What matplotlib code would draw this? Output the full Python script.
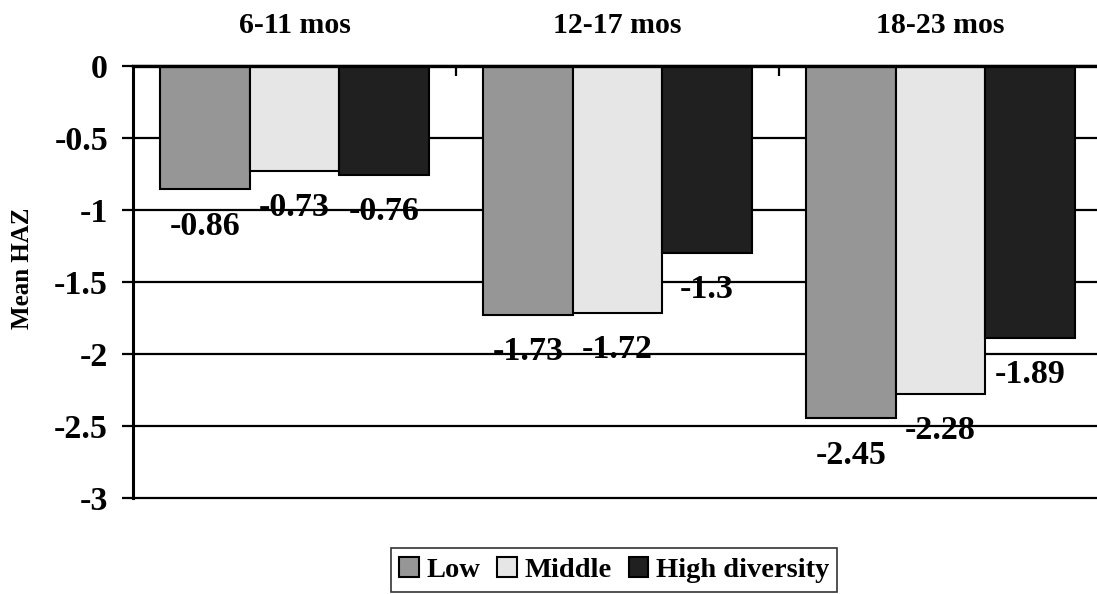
import matplotlib
matplotlib.use("Agg")
import matplotlib.pyplot as plt
import numpy as np

# Mean height-for-age Z score by child age group and dietary diversity tercile
age_groups = ["6-11 mos", "12-17 mos", "18-23 mos"]
series_names = ["Low", "Middle", "High diversity"]
low_vals = [-0.86, -1.73, -2.45]
middle_vals = [-0.73, -1.72, -2.28]
high_vals = [-0.76, -1.30, -1.89]
y_ticks = [0, -0.5, -1, -1.5, -2, -2.5, -3]
y_tick_labels = ["0", "-0.5", "-1", "-1.5", "-2", "-2.5", "-3"]

colors = ["#969696", "#e6e6e6", "#202020"]
serif = ["Liberation Serif", "DejaVu Serif"]
plt.rcParams["font.family"] = serif
plt.rcParams["font.weight"] = "bold"

W, H = 1097, 594
fig = plt.figure(figsize=(W / 100, H / 100), dpi=100)
ax_left, ax_right = 133, 1102
ax_top, ax_bottom = 65.5, 497.5
ax = fig.add_axes([ax_left / W, 1 - ax_bottom / H,
                   (ax_right - ax_left) / W, (ax_bottom - ax_top) / H])

x = np.arange(len(age_groups))
bar_w = 0.277
offsets = [-bar_w, 0, bar_w]
all_vals = [low_vals, middle_vals, high_vals]

for vals, off, col, name in zip(all_vals, offsets, colors, series_names):
    ax.bar(x + off, vals, width=bar_w, color=col, edgecolor="black",
           linewidth=1.5, label=name, zorder=3)
    for xi, v in zip(x + off, vals):
        ax.annotate(f"{v:g}", xy=(xi, v), xytext=(0, -32.6),
                    textcoords="offset points", ha="center", va="baseline",
                    fontsize=24.5, fontweight="bold", zorder=4)

ax.set_ylim(-3, 0)
ax.set_xlim(-0.5, len(age_groups) - 0.5)

# horizontal gridlines
ax.set_yticks(y_ticks)
ax.set_yticklabels(y_tick_labels, fontsize=24.5, fontweight="bold")
ax.yaxis.grid(True, color="black", linewidth=1.6, zorder=1)
ax.set_axisbelow(True)
for gl in ax.get_ygridlines():
    gl.set_clip_on(False)
ax.tick_params(axis="y", direction="out", length=8, width=1.6, pad=10)

# category axis sits along the zero line at the top
ax.xaxis.tick_top()
ax.set_xticks(x)
ax.set_xticklabels(age_groups, fontsize=21.5, fontweight="bold")
ax.tick_params(axis="x", which="major", length=0, pad=19)
ax.set_xticks([0.5, 1.5], minor=True)
ax.tick_params(axis="x", which="minor", direction="in", length=7, width=1.6,
               top=True, bottom=False)

for side in ["right", "bottom"]:
    ax.spines[side].set_visible(False)
ax.spines["left"].set_linewidth(2.2)
ax.spines["top"].set_linewidth(2.4)
ax.spines["top"].set_zorder(5)

fig.text(23 / W, 1 - 268 / H, "Mean HAZ", rotation=90, ha="center",
         va="center", fontsize=18, fontweight="bold")

leg = fig.legend(loc="center", bbox_to_anchor=(614 / W, 1 - 570 / H),
                 ncol=3, frameon=True, fancybox=False, edgecolor="black",
                 prop={"family": serif, "weight": "bold", "size": 20.5},
                 handlelength=0.7, handleheight=0.7, handletextpad=0.25,
                 columnspacing=0.6, borderpad=0.3, borderaxespad=0)
leg.get_frame().set_linewidth(1.2)

fig.savefig("out.png", dpi=100)
